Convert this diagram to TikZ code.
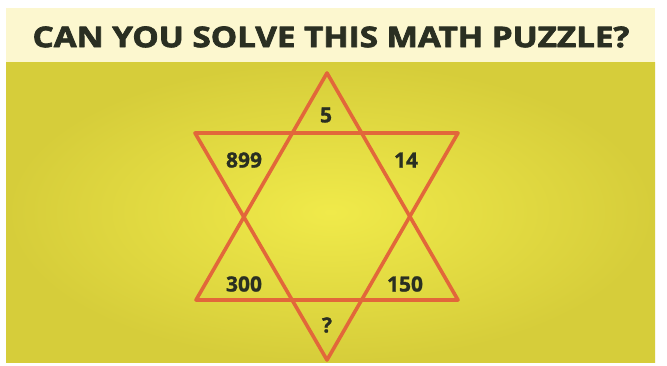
\documentclass[tikz,border=0pt]{standalone}
\usepackage{fontspec}
\setmainfont{Open Sans}
\newfontfamily\heavyfont[FakeBold=2.4]{Open Sans}
\newfontfamily\numfont[FakeBold=1.2]{Open Sans}
\usepackage{tikz}
\usetikzlibrary{positioning,calc}
\definecolor{PZCream}{HTML}{FCF7CF}
\definecolor{PZYellow}{HTML}{F0EA4A}
\definecolor{PZOlive}{HTML}{D6CD3A}
\definecolor{PZStar}{HTML}{E2673A}
\definecolor{PZInk}{HTML}{2A2F22}

\begin{document}
\begin{tikzpicture}[x=1pt,y=-1pt,line cap=round,line join=round]
  \tikzset{
    numlabel/.style={font=\numfont\bfseries\fontsize{21}{21}\selectfont,text=PZInk,inner sep=0pt},
    starside/.style={draw=PZStar,line width=3.6pt}
  }
  \path[use as bounding box,fill=white] (0,0) rectangle (667,365);

  % Title band and yellow field.
  \fill[PZCream] (6,8) rectangle (655,62);
  \shade[inner color=PZYellow,outer color=PZOlive]
    (6,62) rectangle (655,362);

  \node[font=\heavyfont\bfseries\fontsize{28.5}{28.5}\selectfont,text=PZInk,
        inner sep=0pt,xscale=1.165]
    (title) at (331,37) {CAN YOU SOLVE THIS MATH PUZZLE?};

  % The two triangles of the star.
  \coordinate (upapex) at (327,73);
  \coordinate (upleft) at (196,300);
  \coordinate (upright) at (458,300);
  \coordinate (dnapex) at (327,360);
  \coordinate (dnleft) at (195,133);
  \coordinate (dnright) at (458,133);
  \draw[starside] (upapex) -- (upleft) -- (upright) -- cycle;
  \draw[starside] (dnapex) -- (dnleft) -- (dnright) -- cycle;

  \node[numlabel] (top) at (326,115) {5};
  \node[numlabel] (upperl) at (244,160) {899};
  \node[numlabel] (upperr) at (406,160) {14};
  \node[numlabel] (lowerl) at (244,284) {300};
  \node[numlabel] (lowerr) at (405,284) {150};
  \node[numlabel] (bottom) at (327,325) {?};
\end{tikzpicture}
\end{document}
